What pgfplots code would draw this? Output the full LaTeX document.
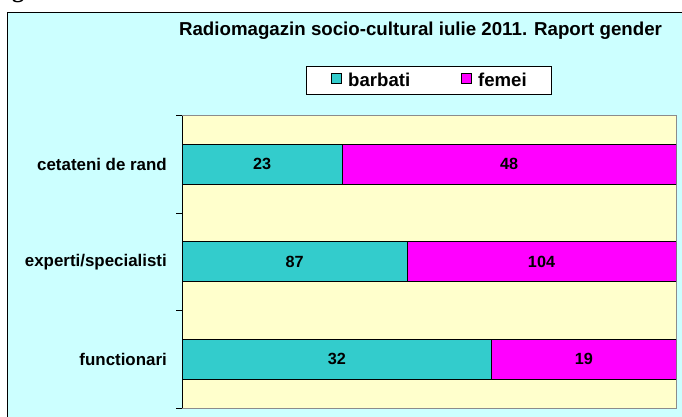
\documentclass[border=0pt]{standalone}
\usepackage{fontspec}
\setmainfont{Liberation Sans}
\newfontfamily\serifb{Liberation Serif}
\usepackage{pgfplots}
\pgfplotsset{compat=1.18}
\definecolor{barb}{HTML}{33CCCC}
\definecolor{fem}{HTML}{FF00FF}
\definecolor{plotbg}{HTML}{FFFFCC}
\definecolor{chartbg}{HTML}{CCFFFF}
\begin{document}
\begin{tikzpicture}[x=1pt,y=1pt]
\useasboundingbox (0,0) rectangle (682,-417);
\clip (0,0) rectangle (682,-417);
\fill[white] (0,0) rectangle (682,-417);
\filldraw[fill=chartbg, draw=black, line width=1.5pt] (7.5,-12.5) rectangle (700,-430);
\node[anchor=base west, inner sep=0pt, font=\serifb\bfseries\fontsize{24}{24}\selectfont] at (12,2) {g};
\node[anchor=base, inner sep=0pt, font=\bfseries\fontsize{18.7}{20}\selectfont] at (420.5,-35.7) {Radiomagazin socio-cultural iulie 2011. Raport gender};
\begin{axis}[
  at={(182pt,-408pt)}, anchor=south west,
  scale only axis, width=494pt, height=292.5pt,
  xmin=0, xmax=100, ymin=-0.5, ymax=2.5,
  xbar stacked, bar width=0.41,
  axis background/.style={fill=plotbg},
  axis line style={draw=black!45, line width=1pt},
  xtick=\empty,
  ytick={0,1,2},
  yticklabels={functionari, experti/specialisti, cetateni de rand},
  minor ytick={-0.5,0.5,1.5,2.5},
  major tick length=0pt, minor tick length=6pt,
  tick align=outside, ytick pos=left,
  y tick style={black, line width=1pt},
  yticklabel style={font=\bfseries\fontsize{16.9}{18}\selectfont, inner sep=0pt, xshift=-15pt},
  point meta=explicit symbolic,
  nodes near coords,
  every node near coord/.append style={anchor=center, font=\bfseries\fontsize{16.2}{17}\selectfont, text=black},
  legend columns=2,
  legend style={at={(0.5,1.1197)}, anchor=center, draw=black, line width=1pt, fill=white,
    font=\bfseries\fontsize{18.6}{20}\selectfont, inner xsep=25pt, inner ysep=6pt,
    nodes={inner sep=0pt},
    /tikz/every odd column/.append style={column sep=6pt},
    /tikz/every even column/.append style={column sep=51pt}},
  legend image code/.code={\draw[#1,draw=black,line width=0.8pt] (0pt,-3pt) rectangle (10pt,7pt); \path (0pt,-7.3pt);},
]
\addplot[fill=barb, draw=black, line width=1pt] coordinates {(62.745,0) [32] (45.550,1) [87] (32.394,2) [23]};
\addplot[fill=fem, draw=black, line width=1pt] coordinates {(37.255,0) [19] (54.450,1) [104] (67.606,2) [48]};
\legend{barbati, femei}
\draw[black, line width=1pt] (rel axis cs:0,0) -- (rel axis cs:0,1);
\end{axis}
\end{tikzpicture}
\end{document}
